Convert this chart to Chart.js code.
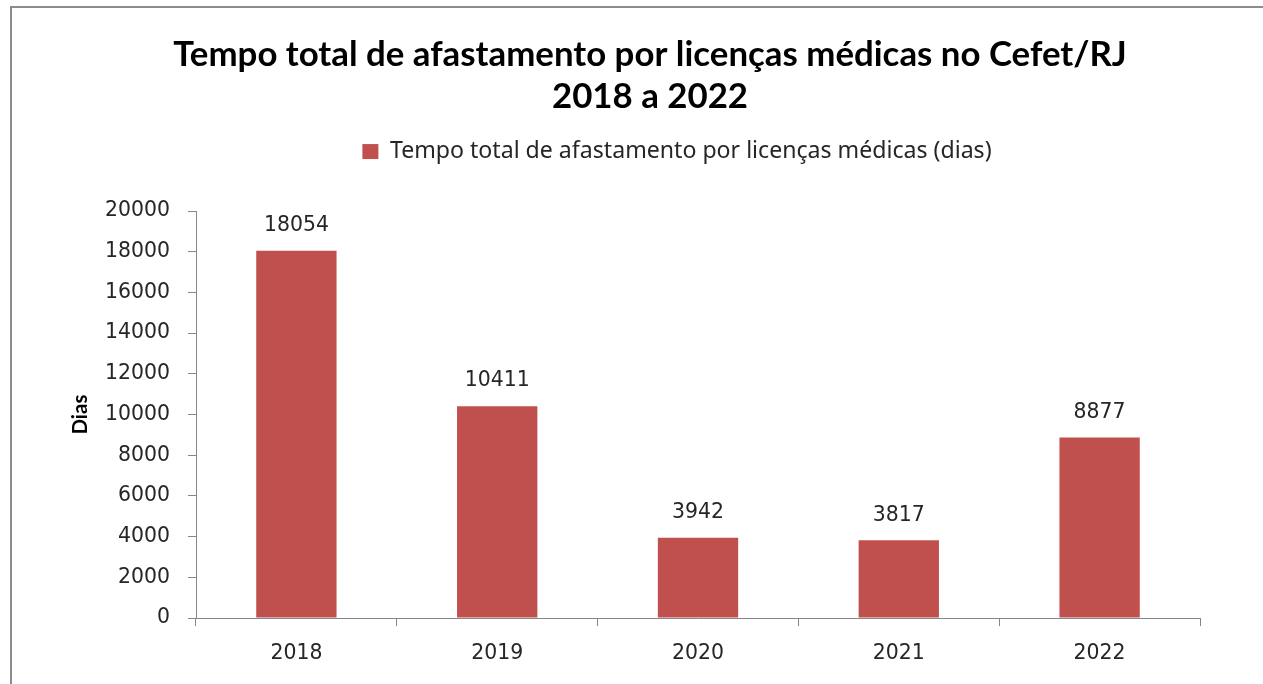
<!DOCTYPE html>
<html>
<head>
<meta charset="utf-8">
<script src="https://cdn.jsdelivr.net/npm/chart.js@4.4.1/dist/chart.umd.min.js"></script>
<style>
  html, body { margin: 0; padding: 0; background: #ffffff; overflow: hidden; }
  #wrap { position: relative; width: 1263px; height: 684px; }
  #frame { position: absolute; left: 10px; top: 6px; width: 1300px; height: 720px;
           border-left: 2px solid #8c8c8c; border-top: 2px solid #8c8c8c; box-sizing: border-box; }
  #c { position: absolute; left: 0; top: 0; }
</style>
</head>
<body>
<div id="wrap">
  <div id="frame"></div>
  <canvas id="c" width="1263" height="684"></canvas>
</div>
<script>
// ---- data ----
const categories = ['2018', '2019', '2020', '2021', '2022'];
const seriesName = 'Tempo total de afastamento por licenças médicas (dias)';
const seriesValues = [18054, 10411, 3942, 3817, 8877];
const titleLines = ['Tempo total de afastamento por licenças médicas no Cefet/RJ', '2018 a 2022'];
const yAxisTitle = 'Dias';
const yMin = 0, yMax = 20000, yStep = 2000;

// ---- font fitting helpers ----
const mctx = document.createElement('canvas').getContext('2d');
function fitSize(text, weight, family, target) {
  mctx.font = weight + ' 100px ' + family;
  const w = mctx.measureText(text).width;
  return 100 * target / w;
}
const TITLE_FAMILY = 'Lato';
const TICK_FAMILY = '"DejaVu Sans"';
const LEGEND_FAMILY = '"Noto Sans"';
const titleSize = fitSize(titleLines[0], 'bold', TITLE_FAMILY, 954);
const tickSize = fitSize('20000', 'normal', TICK_FAMILY, 65);
const xSize = fitSize('2018', 'normal', TICK_FAMILY, 52);
const legendSize = fitSize(seriesName, 'normal', LEGEND_FAMILY, 602);
const yTitleSize = fitSize(yAxisTitle, 'bold', TITLE_FAMILY, 40);

const BAR = '#C0504D';
const AXIS = '#868686';
const TEXT = '#262626';

// shift title / legend horizontally to match reference centering
const centerShift = {
  id: 'centerShift',
  afterLayout(chart) {
    const t = chart.titleBlock;
    if (t) { const dx = 650 - (t.left + t.right) / 2; t.left += dx; t.right += dx; }
    const l = chart.legend;
    if (l) { const dx = 677 - (l.left + l.right) / 2; l.left += dx; l.right += dx; }
  }
};

// value labels above bars
const valueLabels = {
  id: 'valueLabels',
  afterDatasetsDraw(chart) {
    const ctx = chart.ctx;
    const meta = chart.getDatasetMeta(0);
    ctx.save();
    ctx.font = 'normal ' + tickSize + 'px ' + TICK_FAMILY;
    ctx.fillStyle = TEXT;
    ctx.textAlign = 'center';
    ctx.textBaseline = 'middle';
    meta.data.forEach((bar, i) => {
      ctx.fillText(String(chart.data.datasets[0].data[i]), bar.x, bar.y - 25);
    });
    ctx.restore();
  }
};

new Chart(document.getElementById('c'), {
  type: 'bar',
  data: {
    labels: categories,
    datasets: [{
      label: seriesName,
      data: seriesValues,
      backgroundColor: BAR,
      borderWidth: 0,
      barPercentage: 0.4,
      categoryPercentage: 1.0
    }]
  },
  options: {
    responsive: false,
    animation: false,
    layout: { padding: { left: 60, right: 63, top: 0, bottom: 0 } },
    plugins: {
      title: {
        display: true,
        text: titleLines,
        color: '#000000',
        font: { family: TITLE_FAMILY, size: titleSize, weight: 'bold', lineHeight: '42px' },
        padding: { top: 34, bottom: 0 }
      },
      legend: {
        display: true,
        position: 'top',
        labels: {
          color: TEXT,
          font: { family: LEGEND_FAMILY, size: legendSize },
          boxWidth: 16,
          boxHeight: 15,
          padding: 22
        }
      },
      tooltip: { enabled: false }
    },
    scales: {
      x: {
        type: 'category',
        position: 'bottom',
        grid: { display: true, drawOnChartArea: false, drawTicks: true, tickLength: 8, color: AXIS, offset: true },
        border: { display: true, color: AXIS, width: 1 },
        ticks: { color: TEXT, font: { family: TICK_FAMILY, size: xSize }, padding: 15, maxRotation: 0 },
        afterFit(s) { s.height = 66; }
      },
      topGap: {
        type: 'linear',
        axis: 'x',
        position: 'top',
        display: true,
        grid: { display: false },
        border: { display: false },
        ticks: { display: false },
        afterFit(s) { s.height = 38; }
      },
      y: {
        min: yMin,
        max: yMax,
        position: 'left',
        grid: { display: true, drawOnChartArea: false, drawTicks: true, tickLength: 8, color: AXIS },
        border: { display: true, color: AXIS, width: 1 },
        ticks: {
          stepSize: yStep, color: TEXT, font: { family: TICK_FAMILY, size: tickSize }, padding: 18,
          callback: (v) => String(v)
        },
        title: {
          display: true,
          text: yAxisTitle,
          color: '#000000',
          font: { family: TITLE_FAMILY, size: yTitleSize, weight: 'bold' },
          padding: { top: 8, bottom: 0 }
        },
        afterFit(s) { s.width = 136; }
      }
    }
  },
  plugins: [centerShift, valueLabels]
});
</script>
</body>
</html>
